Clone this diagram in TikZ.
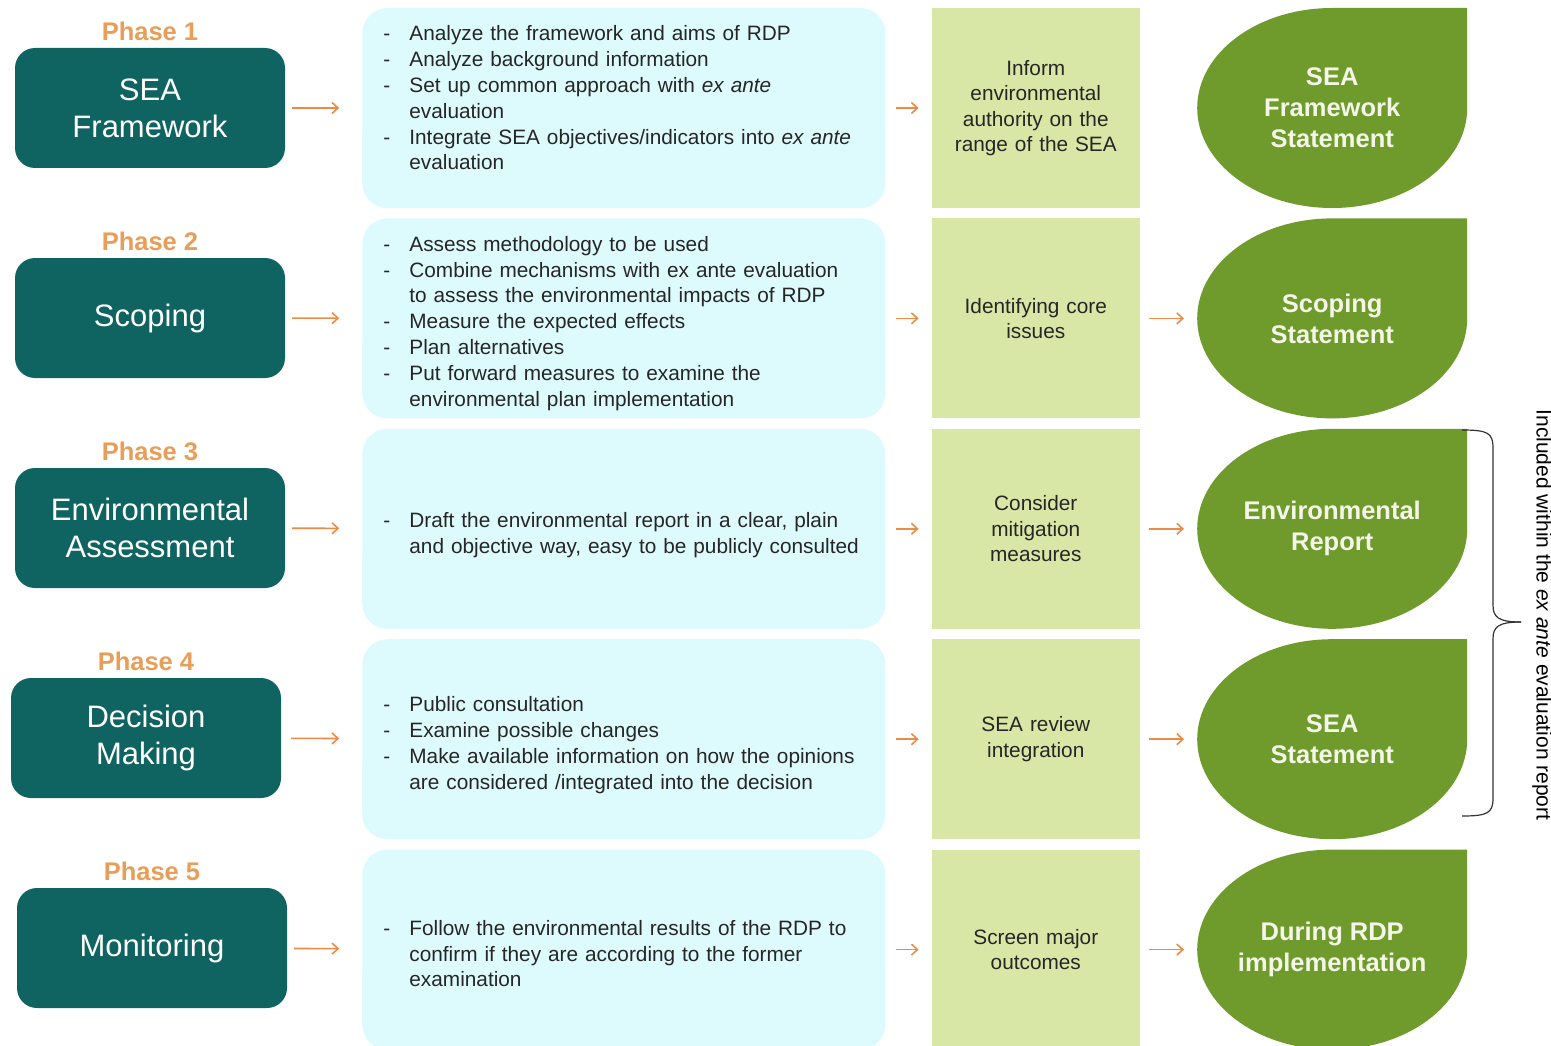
\documentclass[tikz,border=0pt]{standalone}
\usepackage{fontspec}
\setmainfont{Liberation Sans}
\usetikzlibrary{arrows.meta, positioning}

\definecolor{tealbox}{RGB}{15,100,97}
\definecolor{phaseorange}{RGB}{232,158,88}
\definecolor{arrorange}{RGB}{234,140,70}
\definecolor{skyfill}{RGB}{221,251,253}
\definecolor{palegreen}{RGB}{216,230,166}
\definecolor{leafgreen}{RGB}{111,154,44}
\definecolor{leaftext}{RGB}{244,246,232}
\definecolor{bodytext}{RGB}{38,38,38}

\newcommand{\dd}{\makebox[26pt][l]{-}}
\newcommand{\ind}{\hspace*{26pt}}
\newcommand{\lift}[1]{\rule{0pt}{#1}}

\begin{document}
\begin{tikzpicture}[
x=1pt, y=1pt,
node distance=10pt,
phase/.style={rectangle, fill=tealbox, rounded corners=20pt, text=white, align=center, font=\fontsize{31}{37}\selectfont, minimum width=270pt, minimum height=120pt},
phaselbl/.style={text=phaseorange, font=\bfseries\fontsize{25.5}{28}\selectfont, inner sep=2pt},
task/.style={rectangle, fill=skyfill, rounded corners=25pt, minimum width=523pt, minimum height=200pt, text width=481pt, inner xsep=21pt, align=left, text=bodytext, font=\fontsize{20.8}{25.8}\selectfont,
  path picture={\fill[skyfill] (path picture bounding box.south west) rectangle (path picture bounding box.east);}},
check/.style={rectangle, fill=palegreen, minimum width=208pt, minimum height=200pt, text width=190pt, align=center, text=bodytext, font=\fontsize{20.8}{25.5}\selectfont},
leaf/.style={rectangle, minimum width=270pt, minimum height=200pt, align=center, text=leaftext, font=\bfseries\fontsize{25.5}{31}\selectfont,
  path picture={\fill[leafgreen] (path picture bounding box.north east) -- (path picture bounding box.north) arc[start angle=90, end angle=360, x radius=135pt, y radius=100pt] -- cycle;}},
arr/.style={-{Straight Barb[length=6pt, width=11pt]}, arrorange, line width=1.6pt},
bracel/.style={line width=1.2pt, black!80}
]
\useasboundingbox (0,0) rectangle (1551,-1046);

% phase boxes
\node[phase] (frame) at (150,-108) {SEA\\Framework};
\node[phase] (scope) at (150,-318) {Scoping};
\node[phase] (assess) at (150,-528) {Environmental\\Assessment};
\node[phase] (decide) at (146,-738) {Decision\\Making};
\node[phase] (monitor) at (152,-948) {Monitoring};
\node[phaselbl, above=5pt of frame] {Phase 1};
\node[phaselbl, above=5pt of scope] {Phase 2};
\node[phaselbl, above=5pt of assess] {Phase 3};
\node[phaselbl, above=5pt of decide] {Phase 4};
\node[phaselbl, above=5pt of monitor] {Phase 5};

% tasks
\node[task, right=77pt of frame] (frametask) {\dd Analyze the framework and aims of RDP\\
\dd Analyze background information\\
\dd Set up common approach with \emph{ex ante}\\
\ind evaluation\\
\dd Integrate SEA objectives/indicators into \emph{ex ante}\\
\ind evaluation\par\vspace*{20pt}};
\node[task, below=of frametask] (scopetask) {\lift{25pt}\dd Assess methodology to be used\\
\dd Combine mechanisms with ex ante evaluation\\
\ind to assess the environmental impacts of RDP\\
\dd Measure the expected effects\\
\dd Plan alternatives\\
\dd Put forward measures to examine the\\
\ind environmental plan implementation};
\node[task, below=of scopetask] (assesstask) {\lift{27pt}\dd Draft the environmental report in a clear, plain\\
\ind and objective way, easy to be publicly consulted};
\node[task, below=of assesstask] (decidetask) {\lift{27pt}\dd Public consultation\\
\dd Examine possible changes\\
\dd Make available information on how the opinions\\
\ind are considered /integrated into the decision};
\node[task, below=of decidetask] (monitortask) {\lift{23pt}\dd Follow the environmental results of the RDP to\\
\ind confirm if they are according to the former\\
\ind examination};

% checks
\node[check, right=46pt of frametask] (inform) {Inform\\environmental\\authority on the\\range of the SEA};
\node[check, right=46pt of scopetask] (issues) {Identifying core\\issues};
\node[check, right=46pt of assesstask] (mitig) {Consider\\mitigation\\measures};
\node[check, right=46pt of decidetask] (review) {SEA review\\integration};
\node[check, right=46pt of monitortask] (screen) {Screen major\\outcomes};

% outputs
\node[leaf, right=57pt of inform] (fwstmt) {SEA\\Framework\\Statement};
\node[leaf, right=57pt of issues] (scopestmt) {Scoping\\Statement};
\node[leaf, right=57pt of mitig] (envrep) {Environmental\\Report};
\node[leaf, right=57pt of review] (seastmt) {SEA\\Statement};
\node[leaf, right=57pt of screen] (duringrdp) {During RDP\\implementation};

% arrows
\draw[arr, shorten <=7pt, shorten >=23pt] (frame) -- (frametask);
\draw[arr, shorten <=7pt, shorten >=23pt] (scope) -- (scopetask);
\draw[arr, shorten <=7pt, shorten >=23pt] (assess) -- (assesstask);
\draw[arr, shorten <=10pt, shorten >=23pt] (decide) -- (decidetask);
\draw[arr, shorten <=7pt, shorten >=23pt] (monitor) -- (monitortask);
\draw[arr, shorten <=10pt, shorten >=13pt] (frametask) -- (inform);
\draw[arr, shorten <=10pt, shorten >=13pt] (scopetask) -- (issues);
\draw[arr, shorten <=10pt, shorten >=13pt] (assesstask) -- (mitig);
\draw[arr, shorten <=10pt, shorten >=13pt] (decidetask) -- (review);
\draw[arr, shorten <=10pt, shorten >=13pt] (monitortask) -- (screen);
\draw[arr, shorten <=9pt, shorten >=13pt] (issues) -- (scopestmt);
\draw[arr, shorten <=9pt, shorten >=13pt] (mitig) -- (envrep);
\draw[arr, shorten <=9pt, shorten >=13pt] (review) -- (seastmt);
\draw[arr, shorten <=9pt, shorten >=13pt] (screen) -- (duringrdp);

% brace and note
\draw[bracel] (1462,-430) .. controls (1488,-430) and (1493,-433) .. (1493,-448) -- (1493,-605) .. controls (1493,-617) and (1498,-622) .. (1521,-622);
\draw[bracel] (1462,-816) .. controls (1488,-816) and (1493,-813) .. (1493,-798) -- (1493,-639) .. controls (1493,-627) and (1498,-622) .. (1521,-622);
\node[rotate=-90, font=\fontsize{21}{25}\selectfont] (note) at (1542,-615) {Included within the \emph{ex ante} evaluation report};
\end{tikzpicture}
\end{document}
